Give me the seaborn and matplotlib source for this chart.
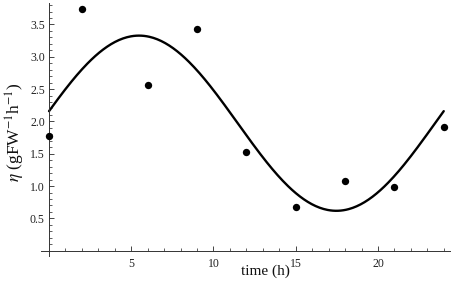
import numpy as np
import pandas as pd
import matplotlib
matplotlib.use("Agg")
import matplotlib.pyplot as plt
import seaborn as sns
from matplotlib.ticker import FixedLocator, FormatStrFormatter

# ─── Data ────────────────────────────────────────────────────────────────────
time_h = [0, 2, 6, 9, 12, 15, 18, 21, 24]
eta = [1.77, 3.74, 2.57, 3.43, 1.53, 0.68, 1.08, 0.98, 1.91]
period_h = 24.0

x_major = [5, 10, 15, 20]
y_major = [0.5, 1.0, 1.5, 2.0, 2.5, 3.0, 3.5]

# ─── Cosinor fit (least squares on the points above) ─────────────────────────
t = np.asarray(time_h, dtype=float)
w = 2 * np.pi / period_h
design = np.column_stack([np.ones_like(t), np.cos(w * t), np.sin(w * t)])
coef, *_ = np.linalg.lstsq(design, np.asarray(eta), rcond=None)

t_fit = np.linspace(0, 24, 300)
eta_fit = coef[0] + coef[1] * np.cos(w * t_fit) + coef[2] * np.sin(w * t_fit)

points = pd.DataFrame({"time": time_h, "eta": eta})
curve = pd.DataFrame({"time": t_fit, "eta": eta_fit})

# ─── Plot ────────────────────────────────────────────────────────────────────
sns.set_theme(style="ticks")
plt.rcParams["font.family"] = ["Liberation Serif", "DejaVu Serif"]
plt.rcParams["mathtext.fontset"] = "stix"

fig = plt.figure(figsize=(4.54, 2.84), dpi=100)
ax = fig.add_axes([0.0899, 0.099, 0.902, 0.890])

sns.lineplot(data=curve, x="time", y="eta", color="black", linewidth=1.7,
             ax=ax, legend=False)
sns.scatterplot(data=points, x="time", y="eta", color="black", s=28,
                edgecolor="black", linewidth=0, ax=ax, zorder=3, legend=False)

ax.set_xlim(-0.5, 24.4)
ax.set_ylim(-0.08, 3.83)

for side in ("top", "right"):
    ax.spines[side].set_visible(False)
ax.spines["left"].set_position(("data", 0))
ax.spines["bottom"].set_position(("data", 0))
for side in ("left", "bottom"):
    ax.spines[side].set_linewidth(0.7)
    ax.spines[side].set_color("#333333")

ax.xaxis.set_major_locator(FixedLocator(x_major))
ax.xaxis.set_minor_locator(FixedLocator(np.arange(1, 25, 1)))
ax.yaxis.set_major_locator(FixedLocator(y_major))
ax.yaxis.set_minor_locator(FixedLocator(np.arange(0.1, 3.85, 0.1)))
ax.yaxis.set_major_formatter(FormatStrFormatter("%.1f"))

# Mathematica-style inward ticks
ax.tick_params(axis="both", which="major", direction="in", length=3.6,
               width=0.7, color="#444444", labelsize=8.5, labelcolor="#222222")
ax.tick_params(axis="both", which="minor", direction="in", length=2.4,
               width=0.6, color="#444444")
ax.tick_params(axis="x", which="major", pad=5)
ax.tick_params(axis="y", which="major", pad=3)

ax.set_xlabel("time (h)", fontsize=11, color="#111111")
ax.xaxis.set_label_coords(0.548, -0.035, transform=ax.transAxes)
ax.xaxis.label.set_va("top")
ax.set_ylabel("")
fig.text(15 / 454, 1 - 132 / 284, r"$\eta$ (gFW$^{-1}$h$^{-1}$)",
         rotation=90, ha="center", va="center", fontsize=12.5, color="#111111")

fig.savefig("out.png", dpi=100)
plt.close(fig)
